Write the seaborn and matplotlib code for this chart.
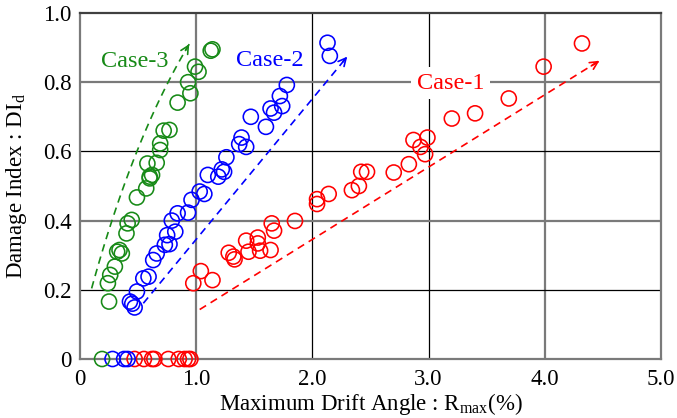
import numpy as np
import pandas as pd
import matplotlib
matplotlib.use("Agg")
import matplotlib.pyplot as plt
import seaborn as sns

# ---------------- data ----------------
case1_x = [0.47, 0.55, 0.62, 0.64, 0.76, 0.85, 0.90, 0.93, 0.95,
           0.975, 1.04, 1.14, 1.28, 1.32, 1.33, 1.43, 1.45, 1.53, 1.53, 1.55,
           1.64, 1.65, 1.67, 1.85, 2.04, 2.04, 2.14, 2.34, 2.40, 2.42, 2.47,
           2.70, 2.83, 2.87, 2.93, 2.99, 2.97, 3.20, 3.40, 3.69, 3.99, 4.32]
case1_y = [0, 0, 0, 0, 0, 0, 0, 0, 0,
           0.219, 0.254, 0.228, 0.307, 0.296, 0.288, 0.342, 0.310, 0.351, 0.334, 0.313,
           0.315, 0.392, 0.371, 0.399, 0.448, 0.462, 0.477, 0.488, 0.500, 0.541, 0.541,
           0.539, 0.563, 0.633, 0.613, 0.640, 0.592, 0.695, 0.710, 0.753, 0.845, 0.912]

case2_x = [0.28, 0.38, 0.41,
           0.43, 0.47, 0.45, 0.49, 0.545, 0.59, 0.63, 0.66, 0.73, 0.77, 0.75, 0.82,
           0.79, 0.84, 0.93, 0.96, 1.03, 1.07, 1.10, 1.19, 1.22, 1.24, 1.26, 1.37,
           1.39, 1.43, 1.47, 1.60, 1.64, 1.67, 1.72, 1.74, 1.78, 2.13, 2.15]
case2_y = [0, 0, 0,
           0.166, 0.149, 0.160, 0.195, 0.233, 0.238, 0.286, 0.305, 0.330, 0.332, 0.358, 0.368,
           0.400, 0.421, 0.423, 0.460, 0.484, 0.477, 0.532, 0.527, 0.548, 0.541, 0.583, 0.621,
           0.640, 0.613, 0.700, 0.671, 0.724, 0.712, 0.760, 0.731, 0.792, 0.914, 0.876]

case3_x = [0.19,
           0.25, 0.24, 0.26, 0.30, 0.32, 0.34, 0.36, 0.40, 0.41, 0.445, 0.49, 0.57,
           0.60, 0.62, 0.60, 0.58, 0.66, 0.69, 0.69, 0.72, 0.77, 0.84, 0.95, 0.93,
           1.02, 0.99, 1.125, 1.14]
case3_y = [0,
           0.166, 0.219, 0.243, 0.267, 0.310, 0.315, 0.305, 0.363, 0.392, 0.402, 0.467, 0.493,
           0.522, 0.532, 0.527, 0.565, 0.567, 0.604, 0.623, 0.660, 0.662, 0.741, 0.768, 0.800,
           0.830, 0.845, 0.891, 0.895]

case_names = ["Case-1", "Case-2", "Case-3"]
case_colors = ["#ff0000", "#0000ff", "#178a17"]

x_ticks = [0, 1, 2, 3, 4, 5]
x_tick_labels = ["0", "1.0", "2.0", "3.0", "4.0", "5.0"]
y_ticks = [0, 0.2, 0.4, 0.6, 0.8, 1.0]
y_tick_labels = ["0", "0.2", "0.4", "0.6", "0.8", "1.0"]

# ---------------- style ----------------
sns.set_theme(style="white")
plt.rcParams["font.family"] = ["Liberation Serif", "DejaVu Serif"]
plt.rcParams["mathtext.fontset"] = "custom"
plt.rcParams["mathtext.rm"] = "Liberation Serif"
plt.rcParams["mathtext.it"] = "Liberation Serif:italic"
for k in ["text.color", "axes.labelcolor", "xtick.color", "ytick.color"]:
    plt.rcParams[k] = "black"

df = pd.DataFrame({
    "R": case1_x + case2_x + case3_x,
    "DI": case1_y + case2_y + case3_y,
    "case": [case_names[0]] * len(case1_x) + [case_names[1]] * len(case2_x)
            + [case_names[2]] * len(case3_x),
})

fig = plt.figure(figsize=(6.77, 4.18), dpi=100)
ax = fig.add_axes([80 / 677, 1 - 359 / 418, (661 - 80) / 677, (359 - 13) / 418])

# grid lines (alternating gray / black)
gray = "#7a7a7a"
for xv, c, lw in [(1, gray, 1.6), (2, "black", 0.9), (3, "black", 0.9), (4, gray, 1.6)]:
    ax.axvline(xv, color=c, lw=lw, zorder=0)
for yv, c, lw in [(0.2, "black", 0.9), (0.4, gray, 1.6), (0.6, "black", 0.9), (0.8, gray, 1.6)]:
    ax.axhline(yv, color=c, lw=lw, zorder=0)

sns.scatterplot(data=df, x="R", y="DI", hue="case", hue_order=case_names,
                palette=case_colors, marker="o", s=118, facecolors="none",
                linewidth=1.15, legend=False, ax=ax, clip_on=False, zorder=3)
# make markers hollow with coloured edges
coll = ax.collections[-1]
fc = coll.get_facecolors()
coll.set_edgecolors(fc)
coll.set_facecolors("none")

ax.set_xlim(0, 5)
ax.set_ylim(0, 1.0)
ax.set_xticks(x_ticks)
ax.set_xticklabels(x_tick_labels)
ax.set_yticks(y_ticks)
ax.set_yticklabels(y_tick_labels)
ax.tick_params(axis="both", length=0, labelsize=16.5, pad=6)
ax.tick_params(axis="x", pad=7)
for s in ax.spines.values():
    s.set_color(gray)
    s.set_linewidth(1.6)
ax.spines["top"].set_color("#404040")

ax.set_xlabel("Maximum Drift Angle : R$_{\\rm max}$(%)", fontsize=16.5, labelpad=1)
ax.set_ylabel("Damage Index : DI$_{\\rm d}$", fontsize=16.5, labelpad=10)

# ---------------- trend arrows ----------------
dash = (0, (4.5, 3.2))
def arrow_head(p_from, p_to, color):
    ax.annotate("", xy=p_to, xytext=p_from,
                arrowprops=dict(arrowstyle="->", color=color, lw=1.2,
                                mutation_scale=14, shrinkA=0, shrinkB=0))

# Case-1 (straight)
a1 = ((1.03, 0.143), (4.47, 0.862))
ax.plot([a1[0][0], a1[1][0]], [a1[0][1], a1[1][1]], color=case_colors[0], lw=1.2, ls=dash)
arrow_head((4.40, 0.847), a1[1], case_colors[0])
# Case-2 (straight)
a2 = ((0.545, 0.161), (2.30, 0.874))
ax.plot([a2[0][0], a2[1][0]], [a2[0][1], a2[1][1]], color=case_colors[1], lw=1.2, ls=dash)
arrow_head((2.26, 0.858), a2[1], case_colors[1])
# Case-3 (curved)
p0 = np.array([0.10, 0.204]); pc = np.array([0.46, 0.643]); p2 = np.array([0.94, 0.91])
t = np.linspace(0, 1, 60)[:, None]
curve = (1 - t) ** 2 * p0 + 2 * t * (1 - t) * pc + t ** 2 * p2
ax.plot(curve[:, 0], curve[:, 1], color=case_colors[2], lw=1.2, ls=dash)
arrow_head(tuple(curve[-3]), tuple(p2), case_colors[2])

# ---------------- labels ----------------
ax.text(0.47, 0.86, "Case-3", color=case_colors[2], fontsize=17.5, ha="center", va="center")
ax.text(1.635, 0.864, "Case-2", color=case_colors[1], fontsize=17.5, ha="center", va="center")
ax.text(3.19, 0.797, "Case-1", color=case_colors[0], fontsize=17.5, ha="center", va="center",
        bbox=dict(facecolor="white", edgecolor="none", pad=4), zorder=2)

fig.savefig("out.png", dpi=100)
